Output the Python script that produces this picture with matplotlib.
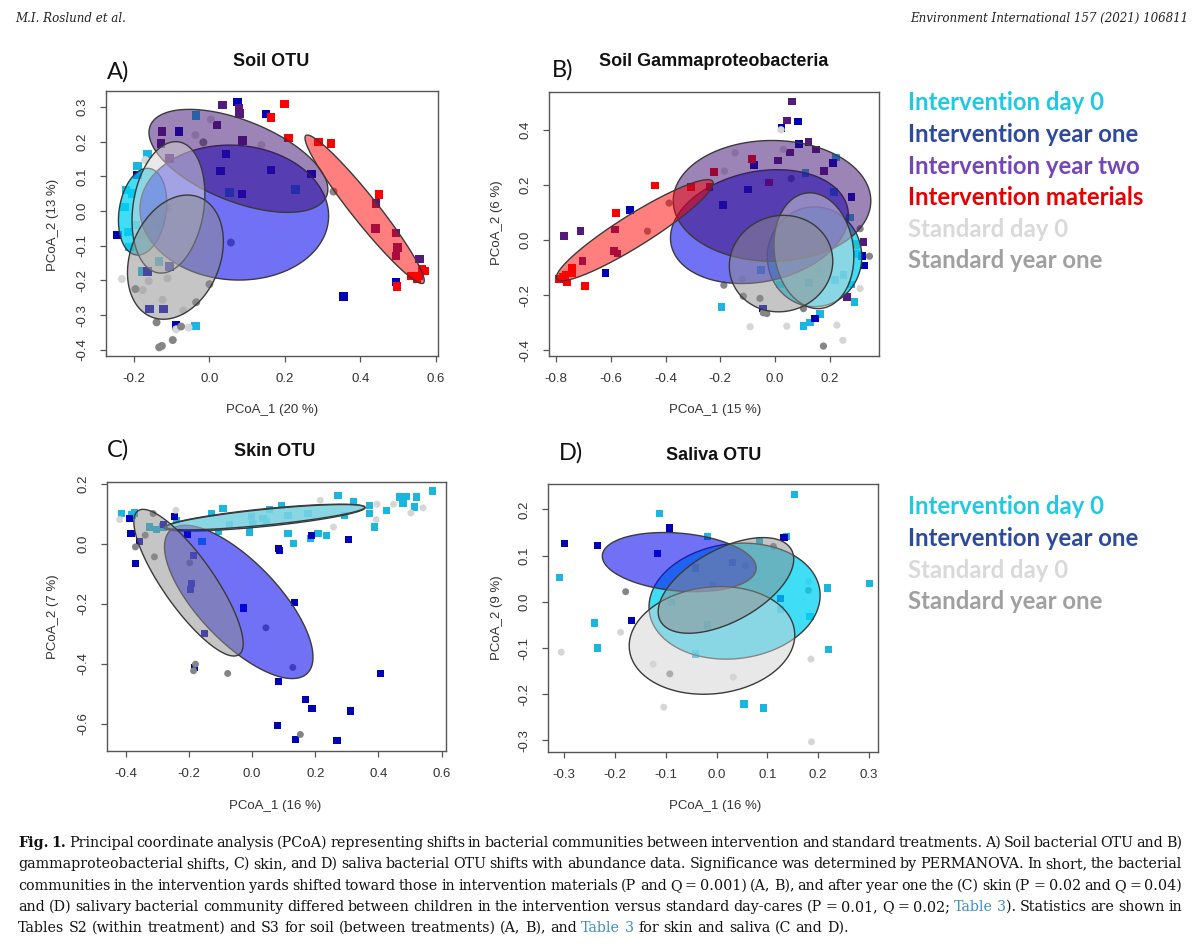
import re
import numpy as np
import matplotlib
matplotlib.use("Agg")
import matplotlib.pyplot as plt
from matplotlib.patches import Polygon
from matplotlib.colors import to_rgba

# ------------------------------------------------------------
# data (PCoA coordinates)
# ------------------------------------------------------------
groups = ["Intervention day 0", "Intervention year one", "Intervention year two",
          "Intervention materials", "Standard day 0", "Standard year one"]

# panel A - soil OTU
A_int_day0 = [(-0.035, 0.275), (-0.164, 0.164), (-0.225, 0.012), (-0.221, 0.061), (-0.133, -0.146),
              (-0.177, -0.175), (-0.037, -0.331), (0.053, 0.054), (0.228, 0.062), (-0.212, -0.103),
              (-0.195, -0.04), (-0.205, 0.05), (-0.19, 0.13), (-0.215, -0.06)]
A_int_y1 = [(0.075, 0.315), (0.150, 0.280), (-0.081, 0.229), (0.044, 0.164), (0.029, 0.116),
            (0.164, 0.118), (0.087, 0.049), (0.271, 0.106), (-0.190, 0.104), (-0.243, -0.069),
            (-0.164, -0.175), (-0.106, -0.160), (-0.159, -0.282), (-0.122, -0.282), (-0.088, -0.330),
            (0.355, -0.247), (0.495, -0.204)]
A_int_y2 = [(0.035, 0.305), (0.080, 0.281), (0.078, 0.296), (0.020, 0.248), (-0.126, 0.229),
            (-0.128, 0.195), (0.088, 0.203), (-0.106, 0.152), (0.442, 0.022), (0.440, -0.050),
            (0.495, -0.064), (0.499, -0.105), (0.495, -0.130), (0.557, -0.139)]
A_materials = [(0.199, 0.308), (0.163, 0.269), (0.210, 0.211), (0.289, 0.199), (0.323, 0.194),
               (0.450, 0.048), (0.497, -0.218), (0.534, -0.188), (0.554, -0.188), (0.563, -0.168),
               (0.572, -0.173), (0.55, -0.195)]
A_std_day0 = [(0.004, 0.264), (-0.037, 0.219), (0.138, 0.190), (-0.170, 0.147), (-0.137, -0.045),
              (-0.232, -0.196), (-0.161, -0.202), (-0.111, -0.194), (-0.177, -0.228), (-0.124, -0.256),
              (-0.069, -0.287), (-0.055, -0.336), (-0.088, -0.341), (-0.109, 0.008), (-0.18, -0.07)]
A_std_y1 = [(-0.016, 0.198), (0.057, -0.091), (0.329, 0.056), (-0.196, -0.225), (0.0, -0.211),
            (-0.035, -0.263), (-0.140, -0.321), (-0.075, -0.333), (-0.097, -0.372), (-0.126, -0.389),
            (-0.133, -0.393)]
# ellipses: centre x, centre y, half-width x, half-height y, correlation
A_ellipses = {
    "Intervention day 0": (-0.177, -0.002, 0.064, 0.125, 0.2),
    "Intervention year one": (0.066, -0.0045, 0.25, 0.1945, -0.05),
    "Intervention year two": (0.077, 0.1445, 0.237, 0.1485, -0.55),
    "Intervention materials": (0.4115, 0.005, 0.158, 0.214, -0.96),
    "Standard day 0": (-0.1085, 0.0105, 0.0965, 0.1895, 0.2),
    "Standard year one": (-0.09, -0.133, 0.127, 0.179, 0.25),
}

# panel B - soil gammaproteobacteria
B_int_day0 = [(-0.195, -0.242), (0.222, 0.300), (0.112, 0.245), (0.216, 0.175), (0.274, 0.082),
              (0.22, -0.145), (0.25, -0.127), (0.29, -0.224), (0.104, -0.311), (0.128, -0.298),
              (0.165, -0.268), (-0.051, -0.109), (0.018, -0.161), (0.124, -0.155), (0.299, -0.012),
              (0.30, -0.05), (0.28, -0.16)]
B_int_y1 = [(-0.530, 0.109), (-0.620, -0.118), (-0.191, 0.127), (-0.098, 0.184), (-0.077, 0.274),
            (0.083, 0.431), (0.024, 0.408), (0.088, 0.350), (0.213, 0.280), (0.280, 0.157),
            (0.317, -0.058), (0.327, -0.091), (0.146, -0.284), (-0.045, -0.248)]
B_int_y2 = [(-0.772, 0.0145), (-0.711, 0.033), (-0.704, -0.075), (-0.584, 0.039), (-0.589, -0.040),
            (-0.576, -0.048), (-0.240, 0.193), (0.061, 0.504), (0.043, 0.435), (0.122, 0.356),
            (0.055, 0.318), (0.149, 0.330), (0.010, 0.290), (0.179, 0.251), (0.262, -0.205),
            (0.323, -0.006)]
B_materials = [(-0.789, -0.141), (-0.774, -0.133), (-0.765, -0.127), (-0.760, -0.153), (-0.743, -0.121),
               (-0.743, -0.099), (-0.695, -0.167), (-0.582, 0.099), (-0.439, 0.199), (-0.306, 0.193),
               (-0.223, 0.248), (-0.085, 0.294), (-0.021, 0.209)]
B_std_day0 = [(0.022, 0.401), (0.161, -0.109), (-0.091, -0.314), (0.043, -0.312), (0.226, -0.308),
              (0.248, -0.363), (0.311, -0.175), (-0.146, 0.317), (-0.185, 0.251), (0.03, 0.33),
              (-0.12, -0.14), (0.2, 0.02)]
B_std_y1 = [(-0.387, 0.135), (-0.466, 0.033), (-0.187, -0.163), (-0.116, -0.203), (-0.055, -0.211),
            (0.177, -0.384), (0.345, -0.058), (0.311, 0.042), (0.104, -0.248), (-0.043, -0.263),
            (-0.03, -0.266), (0.059, 0.224), (0.30, -0.02)]
B_ellipses = {
    "Intervention day 0": (0.1445, -0.06, 0.1725, 0.181, 0.0),
    "Intervention year one": (-0.057, 0.0495, 0.325, 0.2065, 0.2),
    "Intervention year two": (-0.011, 0.143, 0.361, 0.219, 0.0),
    "Intervention materials": (-0.5125, 0.0365, 0.2865, 0.1835, 0.93),
    "Standard day 0": (0.142, -0.038, 0.146, 0.21, -0.1),
    "Standard year one": (0.022, -0.0847, 0.189, 0.175, 0.05),
}

# panel C - skin OTU
C_int_day0 = [(-0.414, 0.100), (-0.371, 0.102), (-0.324, 0.055), (-0.303, 0.047), (-0.282, 0.055),
              (-0.239, 0.078), (-0.158, 0.006), (-0.129, 0.100), (-0.092, 0.116), (-0.071, 0.064),
              (-0.002, 0.091), (0.003, 0.066), (0.035, 0.083), (0.045, 0.072), (-0.007, 0.039),
              (0.056, 0.113), (0.093, 0.127), (0.114, 0.094), (0.114, 0.033), (0.132, 0.000),
              (0.177, 0.100), (0.209, 0.033), (0.235, 0.028), (0.272, 0.161), (0.320, 0.139),
              (0.293, 0.094), (0.372, 0.127), (0.372, 0.100), (0.388, 0.055), (0.425, 0.111),
              (0.467, 0.155), (0.478, 0.133), (0.488, 0.157), (0.520, 0.155), (0.515, 0.122),
              (0.571, 0.175), (0.185, 0.017), (-0.105, 0.04), (-0.38, 0.095)]
C_int_y1 = [(-0.387, 0.083), (-0.383, 0.033), (-0.356, 0.006), (-0.368, -0.066), (-0.246, 0.089),
            (-0.203, 0.031), (-0.185, -0.039), (-0.191, -0.133), (-0.194, -0.153), (-0.150, -0.299),
            (-0.028, -0.214), (0.134, -0.197), (0.085, -0.017), (0.087, -0.024), (0.188, 0.027),
            (0.306, 0.013), (0.084, -0.458), (0.169, -0.519), (0.190, -0.548), (0.311, -0.557),
            (0.406, -0.432), (0.081, -0.605), (0.137, -0.652), (0.269, -0.656), (-0.181, -0.412),
            (-0.280, 0.064)]
C_std_day0 = [(-0.419, 0.080), (-0.241, 0.111), (0.216, 0.144), (0.258, 0.055), (0.396, 0.131),
              (0.393, 0.080), (0.448, 0.131), (0.503, 0.102), (0.541, 0.119)]
C_std_y1 = [(-0.369, -0.011), (-0.338, 0.028), (-0.309, -0.044), (-0.313, 0.100), (-0.197, -0.064),
            (0.044, -0.280), (0.129, -0.412), (-0.179, -0.401), (-0.185, -0.423), (-0.077, -0.432),
            (0.153, -0.635)]
C_ellipses = {
    "Intervention day 0": (0.04, 0.0865, 0.318, 0.0445, 0.75),
    "Intervention year one": (-0.042, -0.194, 0.235, 0.255, -0.72),
    "Standard day 0": (0.043, 0.088, 0.314, 0.042, 0.78),
    "Standard year one": (-0.201, -0.13, 0.173, 0.244, -0.83),
}

# panel D - saliva OTU
D_int_day0 = [(0.153, 0.233), (-0.113, 0.192), (-0.018, 0.142), (0.084, 0.133), (0.138, 0.142),
              (-0.309, 0.053), (0.219, 0.030), (0.302, 0.040), (-0.240, -0.046), (-0.235, -0.100),
              (0.221, -0.103), (-0.042, -0.113), (0.054, -0.221), (0.093, -0.230), (-0.088, -0.001),
              (-0.018, -0.050), (0.126, -0.017), (0.184, -0.032), (-0.008, 0.035)]
D_int_y1 = [(-0.299, 0.127), (-0.235, 0.122), (-0.093, 0.160), (-0.117, 0.104), (-0.168, -0.040),
            (-0.041, 0.073), (0.032, 0.085), (0.133, 0.140), (0.126, 0.008)]
D_std_day0 = [(-0.306, -0.109), (-0.189, -0.066), (-0.125, -0.135), (-0.104, -0.228), (0.033, -0.163),
              (0.186, -0.124), (0.187, -0.303), (0.181, 0.044)]
D_std_y1 = [(-0.179, 0.022), (-0.092, -0.156), (0.057, 0.078), (0.112, 0.120), (0.181, 0.025)]
D_ellipses = {
    "Intervention day 0": (0.0355, 0.0015, 0.1685, 0.1255, 0.1),
    "Intervention year one": (-0.0735, 0.086, 0.1515, 0.064, -0.2),
    "Standard day 0": (-0.009, -0.0835, 0.163, 0.1165, 0.1),
    "Standard year one": (0.0185, 0.0355, 0.1335, 0.1035, 0.55),
}

A_xticks = [-0.2, 0.0, 0.2, 0.4, 0.6]
A_yticks = [-0.4, -0.3, -0.2, -0.1, 0.0, 0.1, 0.2, 0.3]
B_xticks = [-0.8, -0.6, -0.4, -0.2, 0.0, 0.2]
B_yticks = [-0.4, -0.2, 0.0, 0.2, 0.4]
C_xticks = [-0.4, -0.2, 0.0, 0.2, 0.4, 0.6]
C_yticks = [-0.6, -0.4, -0.2, 0.0, 0.2]
D_xticks = [-0.3, -0.2, -0.1, 0.0, 0.1, 0.2, 0.3]
D_yticks = [-0.3, -0.2, -0.1, 0.0, 0.1, 0.2]

legend_top = groups
legend_bottom = ["Intervention day 0", "Intervention year one", "Standard day 0", "Standard year one"]

caption_lines = [
    "*Fig.* *1.* Principal coordinate analysis (PCoA) representing shifts in bacterial communities between intervention and standard treatments. A) Soil bacterial OTU and B)",
    "gammaproteobacterial shifts, C) skin, and D) saliva bacterial OTU shifts with abundance data. Significance was determined by PERMANOVA. In short, the bacterial",
    "communities in the intervention yards shifted toward those in intervention materials (P and Q = 0.001) (A, B), and after year one the (C) skin (P = 0.02 and Q = 0.04)",
    "and (D) salivary bacterial community differed between children in the intervention versus standard day-cares (P = 0.01, Q = 0.02; [Table] [3]). Statistics are shown in",
    "Tables S2 (within treatment) and S3 for soil (between treatments) (A, B), and [Table] [3] for skin and saliva (C and D).",
]

# ------------------------------------------------------------
# styles
# ------------------------------------------------------------
point_color = {
    "Intervention day 0": "#1ab6e0",
    "Intervention year one": "#0000b8",
    "Intervention year two": "#55197c",
    "Intervention materials": "#ff0000",
    "Standard day 0": "#d6d6d6",
    "Standard year one": "#858585",
}
marker = {g: ("s" if g.startswith("Intervention") else "o") for g in groups}
fill_color = {
    "Intervention day 0": ("#00d2f5", 0.75),
    "Intervention year one": ("#0a0af0", 0.58),
    "Intervention year two": ("#3c0a6e", 0.5),
    "Intervention materials": ("#ff0000", 0.5),
    "Standard day 0": ("#d3d3d3", 0.5),
    "Standard year one": ("#8c8c8c", 0.5),
}
legend_color = {
    "Intervention day 0": "#1fc9e2",
    "Intervention year one": "#2e4a9e",
    "Intervention year two": "#7446b8",
    "Intervention materials": "#e60000",
    "Standard day 0": "#d9d9d9",
    "Standard year one": "#a0a0a0",
}

plt.rcParams["font.family"] = ["Liberation Sans", "DejaVu Sans"]

W, H = 1200, 952
fig = plt.figure(figsize=(W / 100, H / 100), dpi=100)
fig.patch.set_facecolor("white")


def rect(left, top, right, bottom):
    return [left / W, 1 - bottom / H, (right - left) / W, (bottom - top) / H]


def fx(px):
    return px / W


def fy(py):
    return 1 - py / H


panels = [
    dict(rect=rect(106, 91, 438, 356), xlim=(-0.274, 0.606), ylim=(-0.418, 0.346),
         xticks=A_xticks, yticks=A_yticks, ellipses=A_ellipses, size=(37, 33),
         points={"Intervention day 0": A_int_day0, "Intervention year one": A_int_y1,
                 "Intervention year two": A_int_y2, "Intervention materials": A_materials,
                 "Standard day 0": A_std_day0, "Standard year one": A_std_y1},
         title="Soil OTU", title_xy=(271, 62), letter="A)", letter_xy=(107, 72),
         xlabel="PCoA_1 (20 %)", xlabel_xy=(272, 410), ylabel="PCoA_2 (13 %)", ylabel_xy=(53, 225)),
    dict(rect=rect(549, 92, 879, 356), xlim=(-0.826, 0.380), ylim=(-0.420, 0.538),
         xticks=B_xticks, yticks=B_yticks, ellipses=B_ellipses, size=(30, 27),
         points={"Intervention day 0": B_int_day0, "Intervention year one": B_int_y1,
                 "Intervention year two": B_int_y2, "Intervention materials": B_materials,
                 "Standard day 0": B_std_day0, "Standard year one": B_std_y1},
         title="Soil Gammaproteobacteria", title_xy=(714, 62), letter="B)", letter_xy=(552, 70),
         xlabel="PCoA_1 (15 %)", xlabel_xy=(715, 410), ylabel="PCoA_2 (6 %)", ylabel_xy=(497, 223)),
    dict(rect=rect(107, 482, 446, 751), xlim=(-0.459, 0.614), ylim=(-0.690, 0.205),
         xticks=C_xticks, yticks=C_yticks, ellipses=C_ellipses, size=(27, 25),
         points={"Intervention day 0": C_int_day0, "Intervention year one": C_int_y1,
                 "Standard day 0": C_std_day0, "Standard year one": C_std_y1},
         title="Skin OTU", title_xy=(275, 451), letter="C)", letter_xy=(107, 450),
         xlabel="PCoA_1 (16 %)", xlabel_xy=(275, 806), ylabel="PCoA_2 (7 %)", ylabel_xy=(53, 617)),
    dict(rect=rect(548, 484, 878, 752), xlim=(-0.332, 0.318), ylim=(-0.325, 0.255),
         xticks=D_xticks, yticks=D_yticks, ellipses=D_ellipses, size=(27, 25),
         points={"Intervention day 0": D_int_day0, "Intervention year one": D_int_y1,
                 "Standard day 0": D_std_day0, "Standard year one": D_std_y1},
         title="Saliva OTU", title_xy=(714, 455), letter="D)", letter_xy=(559, 453),
         xlabel="PCoA_1 (16 %)", xlabel_xy=(715, 806), ylabel="PCoA_2 (9 %)", ylabel_xy=(497, 618)),
]

frame_col = "#555555"
for p in panels:
    ax = fig.add_axes(p["rect"])
    sq, ci = p["size"]
    for g, pts in p["points"].items():
        xs = [q[0] for q in pts]
        ys = [q[1] for q in pts]
        ax.scatter(xs, ys, s=sq if marker[g] == "s" else ci, marker=marker[g],
                   color=point_color[g], edgecolors="none", zorder=2)
    t = np.linspace(0, 2 * np.pi, 300)
    for g in groups:
        if g not in p["ellipses"]:
            continue
        cx, cy, sx, sy, r = p["ellipses"][g]
        ex = cx + sx * np.cos(t)
        ey = cy + sy * (r * np.cos(t) + np.sqrt(1 - r * r) * np.sin(t))
        col, alpha = fill_color[g]
        ax.add_patch(Polygon(np.column_stack([ex, ey]), closed=True,
                             facecolor=to_rgba(col, alpha), edgecolor="#3a3a3a",
                             linewidth=1.0, zorder=3))
    ax.set_xlim(*p["xlim"])
    ax.set_ylim(*p["ylim"])
    ax.set_xticks(p["xticks"])
    ax.set_xticklabels([f"{v:.1f}" for v in p["xticks"]])
    ax.set_yticks(p["yticks"])
    ax.set_yticklabels([f"{v:.1f}" for v in p["yticks"]], rotation=90, va="center")
    ax.tick_params(direction="out", length=4.5, width=0.9, color=frame_col,
                   labelsize=9.5, labelcolor="#333333", pad=8)
    for s in ax.spines.values():
        s.set_color(frame_col)
        s.set_linewidth(1.0)

    fig.text(fx(p["title_xy"][0]), fy(p["title_xy"][1]), p["title"], ha="center", va="center",
             fontsize=13, fontweight="bold", color="#111111")
    fig.text(fx(p["letter_xy"][0]), fy(p["letter_xy"][1]), p["letter"], ha="left", va="center",
             fontsize=17, family=["Lato", "DejaVu Sans"], color="#111111")
    fig.text(fx(p["xlabel_xy"][0]), fy(p["xlabel_xy"][1]), p["xlabel"], ha="center", va="center",
             fontsize=9.5, color="#333333")
    fig.text(fx(p["ylabel_xy"][0]), fy(p["ylabel_xy"][1]), p["ylabel"], ha="center", va="center",
             fontsize=9.5, color="#333333", rotation=90)

# group legends written as coloured text
for labels, y0 in [(legend_top, 103), (legend_bottom, 507)]:
    for i, lab in enumerate(labels):
        fig.text(fx(908), fy(y0 + i * 31.6), lab, ha="left", va="center", fontsize=17.2,
                 fontweight="bold", family=["Lato", "DejaVu Sans"], color=legend_color[lab])

# running header
fig.text(fx(15), fy(18), "M.I. Roslund et al.", ha="left", va="center", fontsize=8.6,
         style="italic", family=["DejaVu Serif"], color="#222222")
fig.text(fx(1188), fy(18), "Environment International 157 (2021) 106811", ha="right", va="center",
         fontsize=8.6, style="italic", family=["DejaVu Serif"], color="#222222")

# caption, justified word by word
cap_size = 10.3
cap_left, cap_right = 18, 1182
line_y = [843, 864, 886, 907, 928]
renderer = fig.canvas.get_renderer()


def parse_word(word):
    parts = []
    for seg in re.split(r"(\[[^\]]*\]|\*[^*]*\*)", word):
        if not seg:
            continue
        if seg.startswith("["):
            parts.append((seg[1:-1], "#3b8fc6", "normal"))
        elif seg.startswith("*"):
            parts.append((seg[1:-1], "#111111", "bold"))
        else:
            parts.append((seg, "#111111", "normal"))
    return parts


def part_width(txt, wt):
    tt = fig.text(0, 0, txt, fontsize=cap_size, family=["DejaVu Serif"], fontweight=wt)
    w = tt.get_window_extent(renderer).width
    tt.remove()
    return w


space_w = part_width("a a", "normal") - 2 * part_width("a", "normal")
for li, line in enumerate(caption_lines):
    words = [parse_word(w) for w in line.split(" ")]
    widths = [[part_width(txt, wt) for txt, _, wt in wd] for wd in words]
    total = sum(sum(w) for w in widths)
    last = li == len(caption_lines) - 1
    gap = space_w if last else (cap_right - cap_left - total) / (len(words) - 1)
    x = cap_left
    for wd, ws in zip(words, widths):
        for (txt, col, wt), w in zip(wd, ws):
            fig.text(fx(x), fy(line_y[li] + 4), txt, ha="left", va="baseline", fontsize=cap_size,
                     family=["DejaVu Serif"], fontweight=wt, color=col)
            x += w
        x += gap

fig.savefig("out.png", dpi=100, facecolor="white")
